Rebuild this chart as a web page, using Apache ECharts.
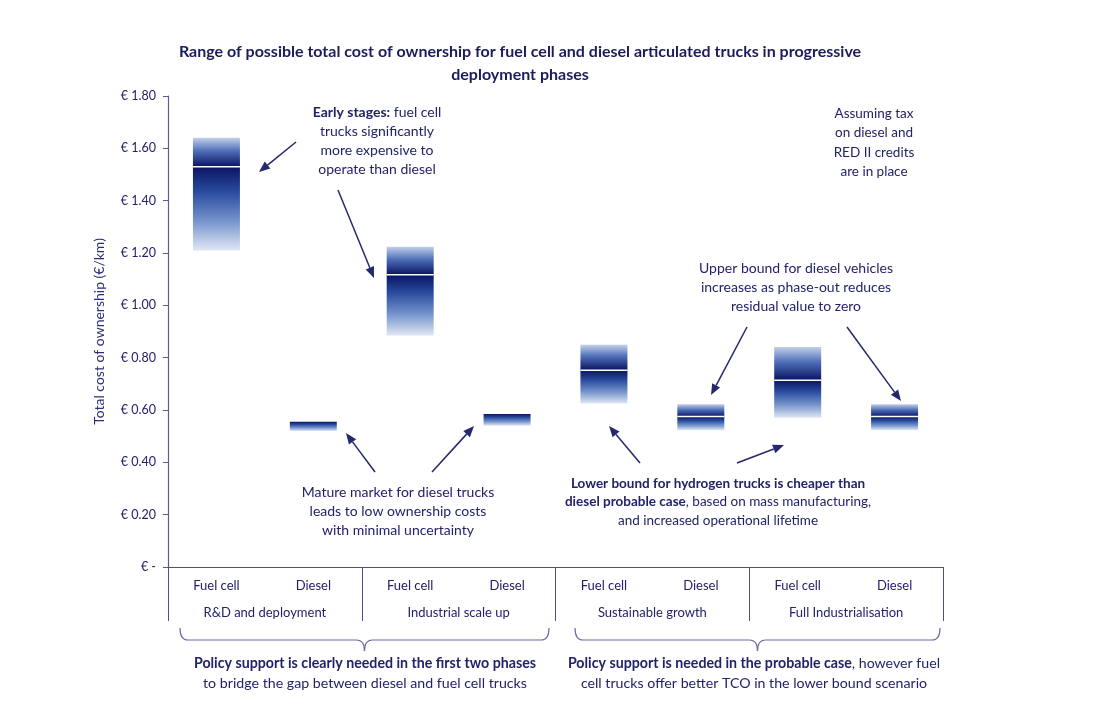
<!DOCTYPE html>
<html><head><meta charset="utf-8">
<script src="https://cdn.jsdelivr.net/npm/echarts@6/dist/echarts.min.js"></script>
<style>html,body{margin:0;padding:0;background:#fff}#c{width:1096px;height:713px}</style>
</head><body><div id="c"></div>
<script>
var truckTypes = ['Fuel cell','Diesel','Fuel cell','Diesel','Fuel cell','Diesel','Fuel cell','Diesel'];
var phases = ['R&D and deployment','Industrial scale up','Sustainable growth','Full Industrialisation'];
var lowBound =  [1.21, 0.52, 0.885, 0.54, 0.625, 0.523, 0.57, 0.523];
var probable =  [1.53, 0.555, 1.117, 0.585, 0.752, 0.575, 0.714, 0.575];
var highBound = [1.64, 0.555, 1.224, 0.585, 0.849, 0.622, 0.841, 0.622];
var yTicks = [0, 0.2, 0.4, 0.6, 0.8, 1.0, 1.2, 1.4, 1.6, 1.8];

var FONT = 'Lato, "Open Sans", sans-serif';
var TXT = '#22226a';
var data = truckTypes.map(function(t, i){ return [i, lowBound[i], probable[i], highBound[i]]; });

function upperGrad(){ return {type:'linear', x:0, y:0, x2:0, y2:1, colorStops:[
  {offset:0,color:'#c3d0ea'},{offset:0.45,color:'#4f70b9'},{offset:1,color:'#0a1462'}]}; }
function lowerGrad(){ return {type:'linear', x:0, y:0, x2:0, y2:1, colorStops:[
  {offset:0,color:'#0a1462'},{offset:0.3,color:'#2a4c9e'},{offset:0.65,color:'#7594cc'},{offset:1,color:'#e0e7f4'}]}; }

function renderItem(params, api){
  var x = api.value(0);
  var lo = api.coord([x, api.value(1)]);
  var md = api.coord([x, api.value(2)]);
  var hi = api.coord([x, api.value(3)]);
  var bw = api.size([1,0])[0] * 0.485;
  var left = lo[0] - bw/2;
  var children = [];
  var split = hi[1] < md[1] - 0.5;
  if (split) {
    children.push({type:'rect', shape:{x:left, y:hi[1], width:bw, height:md[1]-hi[1]}, style:{fill:upperGrad()}});
  }
  children.push({type:'rect', shape:{x:left, y:md[1], width:bw, height:lo[1]-md[1]}, style:{fill:lowerGrad()}});
  if (split) {
    children.push({type:'line', shape:{x1:left, y1:md[1], x2:left+bw, y2:md[1]}, style:{stroke:'#ffffff', lineWidth:1.5}});
  }
  return {type:'group', children:children};
}

var ARROW = '#26286e';
function arrow(x1,y1,x2,y2){
  var ang = Math.atan2(y2-y1, x2-x1);
  var L = 11, W = 4.5;
  var bx = x2 - L*Math.cos(ang), by = y2 - L*Math.sin(ang);
  var px = -Math.sin(ang)*W, py = Math.cos(ang)*W;
  return {type:'group', children:[
    {type:'line', shape:{x1:x1,y1:y1,x2:bx,y2:by}, style:{stroke:ARROW, lineWidth:1.5}},
    {type:'polygon', shape:{points:[[x2,y2],[bx+px,by+py],[bx-px,by-py]]}, style:{fill:ARROW}}
  ]};
}
function brace(x1,x2,ym,ytop,ytip){
  var xm=(x1+x2)/2, r=8;
  var st = {stroke:'#6b6b9c', lineWidth:1.2, fill:null};
  function q(ax,ay,cx,cy,bx,by){ return {type:'bezierCurve', shape:{x1:ax,y1:ay,cpx1:cx,cpy1:cy,x2:bx,y2:by}, style:st}; }
  function l(ax,ay,bx,by){ return {type:'line', shape:{x1:ax,y1:ay,x2:bx,y2:by}, style:st}; }
  return {type:'group', children:[
    q(x1,ytop,x1,ym,x1+r,ym), l(x1+r,ym,xm-r,ym), q(xm-r,ym,xm,ym,xm,ytip),
    q(xm,ytip,xm,ym,xm+r,ym), l(xm+r,ym,x2-r,ym), q(x2-r,ym,x2,ym,x2,ytop)
  ]};
}
function rich(fs){
  return {
    b:{fontWeight:'bold', fontSize:fs, fontFamily:FONT, fill:TXT},
    n:{fontWeight:'normal', fontSize:fs, fontFamily:FONT, fill:TXT}
  };
}
function note(x,y,text,lh,fs){
  fs = fs || 14;
  return {type:'text', x:x, y:y, style:{text:text, rich:rich(fs), fill:TXT, font:fs+'px '+FONT,
    textAlign:'center', textVerticalAlign:'top', lineHeight:lh||19}};
}

var chart = echarts.init(document.getElementById('c'));
chart.setOption({
  animation:false,
  backgroundColor:'#fff',
  title:{text:'Range of possible total cost of ownership for fuel cell and diesel articulated trucks in progressive\ndeployment phases',
    left:515, top:35, textAlign:'center',
    textStyle:{fontFamily:FONT, fontSize:16, fontWeight:'bold', color:'#1b1b5e', lineHeight:23}},
  grid:{left:168, right:153, top:96, bottom:146},
  xAxis:[
    {type:'category', data:truckTypes, position:'bottom',
      axisLine:{show:true, lineStyle:{color:'#4d4d8d', width:1.2}}, axisTick:{show:false},
      axisLabel:{margin:12, color:TXT, fontFamily:FONT, fontSize:13}},
    {type:'category', data:phases, position:'bottom',
      axisLine:{show:false}, axisTick:{show:true, length:54, interval:0, lineStyle:{color:'#4d4d8d', width:1}},
      axisLabel:{margin:39, color:TXT, fontFamily:FONT, fontSize:13}}
  ],
  yAxis:{type:'value', min:yTicks[0], max:yTicks[yTicks.length-1], interval:0.2,
    name:'Total cost of ownership (€/km)', nameLocation:'middle', nameGap:62,
    nameTextStyle:{color:'#2c2c78', fontFamily:FONT, fontSize:14},
    axisLine:{show:true, lineStyle:{color:'#5a5a96', width:1.2}},
    axisTick:{show:true, length:5, lineStyle:{color:'#5a5a96'}},
    splitLine:{show:false},
    axisLabel:{margin:12, color:TXT, fontFamily:FONT, fontSize:12.5,
      formatter:function(v){ return Math.abs(v) < 1e-9 ? '€ -' : '€ ' + v.toFixed(2); }}},
  series:[{type:'custom', xAxisIndex:0, renderItem:renderItem, data:data, encode:{x:0, y:[1,2,3]}}],
  graphic:[
    note(377,103,'{b|Early stages:}{n| fuel cell}\n{n|trucks significantly}\n{n|more expensive to}\n{n|operate than diesel}',19),
    note(874,104,'{n|Assuming tax}\n{n|on diesel and}\n{n|RED II credits}\n{n|are in place}',19.3,13.5),
    note(796,259,'{n|Upper bound for diesel vehicles}\n{n|increases as phase-out reduces}\n{n|residual value to zero}',19),
    note(398,483,'{n|Mature market for diesel trucks}\n{n|leads to low ownership costs}\n{n|with minimal uncertainty}',19),
    note(718,474,'{b|Lower bound for hydrogen trucks is cheaper than}\n{b|diesel probable case}{n|, based on mass manufacturing,}\n{n|and increased operational lifetime}',18.5,13.5),
    note(365,653,'{b|Policy support is clearly needed in the first two phases}\n{n|to bridge the gap between diesel and fuel cell trucks}',20,14.2),
    note(754,653,'{b|Policy support is needed in the probable case}{n|, however fuel}\n{n|cell trucks offer better TCO in the lower bound scenario}',20,14.2),
    arrow(296,142,259,172),
    arrow(338,190,374,278),
    arrow(375,472,346,433),
    arrow(432,472,474,426),
    arrow(747,327,711,395),
    arrow(847,327,901,401),
    arrow(640,463,609,426),
    arrow(737,463,784,445),
    brace(180,549,640,628,651),
    brace(575,940,640,628,651)
  ]
});
</script></body></html>
